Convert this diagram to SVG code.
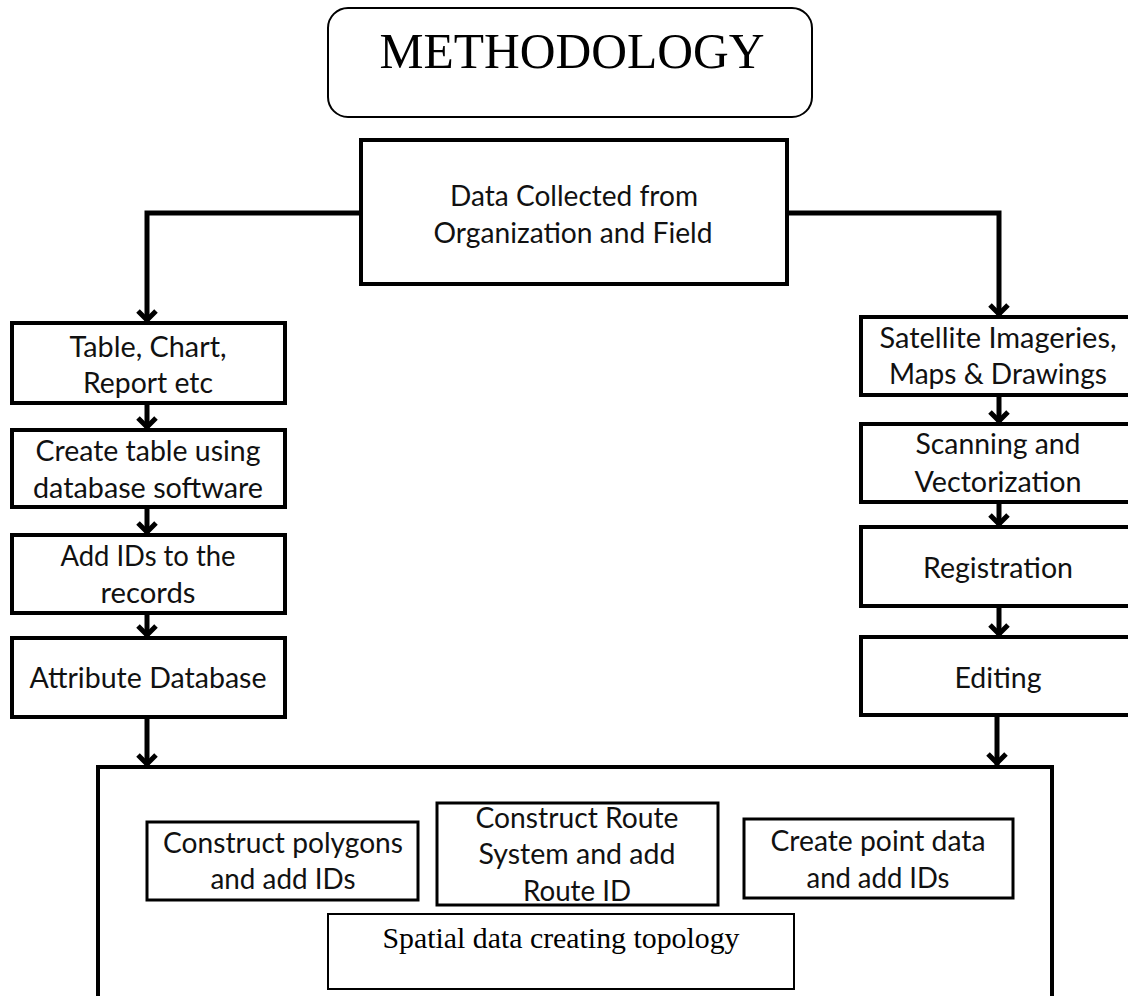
<svg xmlns="http://www.w3.org/2000/svg" width="1128" height="996" viewBox="0 0 1128 996">
<defs>
<marker id="ah" markerUnits="userSpaceOnUse" viewBox="-16 -14 20 28" refX="0" refY="0" markerWidth="20" markerHeight="28" orient="auto">
<path d="M -11 -9 L -2 0 L -11 9" fill="none" stroke="#000" stroke-width="5" stroke-linejoin="miter"/>
</marker>
</defs>
<style>
.box{fill:#fff;stroke:#000;stroke-width:4}
.thin{fill:#fff;stroke:#000;stroke-width:2}
.conn{fill:none;stroke:#000;stroke-width:5;marker-end:url(#ah)}
.t{font-family:Lato,"Open Sans",sans-serif;font-size:28px;fill:#111;text-anchor:middle}
.s{font-family:"Liberation Serif","Times New Roman",serif;fill:#000;text-anchor:middle}
</style>
<rect width="1128" height="996" fill="#fff"/>
<g id="title">
<rect x="328" y="8" width="484" height="109" rx="20" class="thin"/>
<text x="572" y="68" class="s" font-size="50" textLength="385" lengthAdjust="spacingAndGlyphs">METHODOLOGY</text>
</g>
<g id="connectors">
<path class="conn" d="M 361 213 H 147 V 322"/>
<path class="conn" d="M 787 213 H 999 V 316"/>
<path class="conn" d="M 147 403 V 429"/>
<path class="conn" d="M 147 507 V 534"/>
<path class="conn" d="M 147 613 V 637"/>
<path class="conn" d="M 147 717 V 766"/>
<path class="conn" d="M 999 395 V 423"/>
<path class="conn" d="M 999 502 V 526"/>
<path class="conn" d="M 999 606 V 636"/>
<path class="conn" d="M 997 715 V 765"/>
</g>
<g id="data">
<rect x="361" y="140" width="426" height="144" class="box"/>
<text x="574" y="206" class="t" textLength="248" lengthAdjust="spacingAndGlyphs">Data Collected from</text>
<text x="573" y="243" class="t" textLength="279" lengthAdjust="spacingAndGlyphs">Organization and Field</text>
</g>
<g id="table">
<rect x="12" y="323" width="273" height="80" class="box"/>
<text x="148" y="357" class="t" textLength="157" lengthAdjust="spacingAndGlyphs">Table, Chart,</text>
<text x="148" y="393" class="t" textLength="130" lengthAdjust="spacingAndGlyphs">Report etc</text>
</g>
<g id="create-table">
<rect x="12" y="430" width="273" height="77" class="box"/>
<text x="148" y="461" class="t" textLength="225" lengthAdjust="spacingAndGlyphs">Create table using</text>
<text x="148" y="498" class="t" textLength="230" lengthAdjust="spacingAndGlyphs">database software</text>
</g>
<g id="add-ids">
<rect x="12" y="535" width="273" height="78" class="box"/>
<text x="148" y="566" class="t" textLength="175" lengthAdjust="spacingAndGlyphs">Add IDs to the</text>
<text x="148" y="603" class="t" textLength="95" lengthAdjust="spacingAndGlyphs">records</text>
</g>
<g id="attribute">
<rect x="12" y="638" width="273" height="79" class="box"/>
<text x="148" y="688" class="t" textLength="237" lengthAdjust="spacingAndGlyphs">Attribute Database</text>
</g>
<g id="satellite">
<rect x="861" y="317" width="280" height="78" class="box"/>
<text x="998" y="348" class="t" textLength="237" lengthAdjust="spacingAndGlyphs">Satellite Imageries,</text>
<text x="998" y="384" class="t" textLength="218" lengthAdjust="spacingAndGlyphs">Maps &amp; Drawings</text>
</g>
<g id="scanning">
<rect x="861" y="424" width="280" height="78" class="box"/>
<text x="998" y="454" class="t" textLength="165" lengthAdjust="spacingAndGlyphs">Scanning and</text>
<text x="998" y="492" class="t" textLength="167" lengthAdjust="spacingAndGlyphs">Vectorization</text>
</g>
<g id="registration">
<rect x="861" y="527" width="280" height="79" class="box"/>
<text x="998" y="578" class="t" textLength="150" lengthAdjust="spacingAndGlyphs">Registration</text>
</g>
<g id="editing">
<rect x="861" y="637" width="280" height="78" class="box"/>
<text x="998" y="688" class="t" textLength="87" lengthAdjust="spacingAndGlyphs">Editing</text>
</g>
<g id="spatial-group">
<path d="M 98 1000 V 767 H 1052 V 1000" fill="#fff" stroke="#000" stroke-width="4"/>
</g>
<g id="polygons">
<rect x="147" y="822" width="271" height="78" class="box" style="stroke-width:3"/>
<text x="283" y="853" class="t" textLength="240" lengthAdjust="spacingAndGlyphs">Construct polygons</text>
<text x="283" y="889" class="t" textLength="145" lengthAdjust="spacingAndGlyphs">and add IDs</text>
</g>
<g id="route">
<rect x="437" y="803" width="281" height="102" class="box" style="stroke-width:3"/>
<text x="577" y="828" class="t" textLength="203" lengthAdjust="spacingAndGlyphs">Construct Route</text>
<text x="577" y="864" class="t" textLength="197" lengthAdjust="spacingAndGlyphs">System and add</text>
<text x="577" y="901" class="t" textLength="108" lengthAdjust="spacingAndGlyphs">Route ID</text>
</g>
<g id="point">
<rect x="744" y="819" width="269" height="79" class="box" style="stroke-width:3"/>
<text x="878" y="851" class="t" textLength="215" lengthAdjust="spacingAndGlyphs">Create point data</text>
<text x="878" y="888" class="t" textLength="143" lengthAdjust="spacingAndGlyphs">and add IDs</text>
</g>
<g id="spatial">
<rect x="328" y="914" width="466" height="75" class="thin"/>
<text x="561" y="948" class="s" font-size="30" textLength="357" lengthAdjust="spacingAndGlyphs">Spatial data creating topology</text>
</g>
</svg>
